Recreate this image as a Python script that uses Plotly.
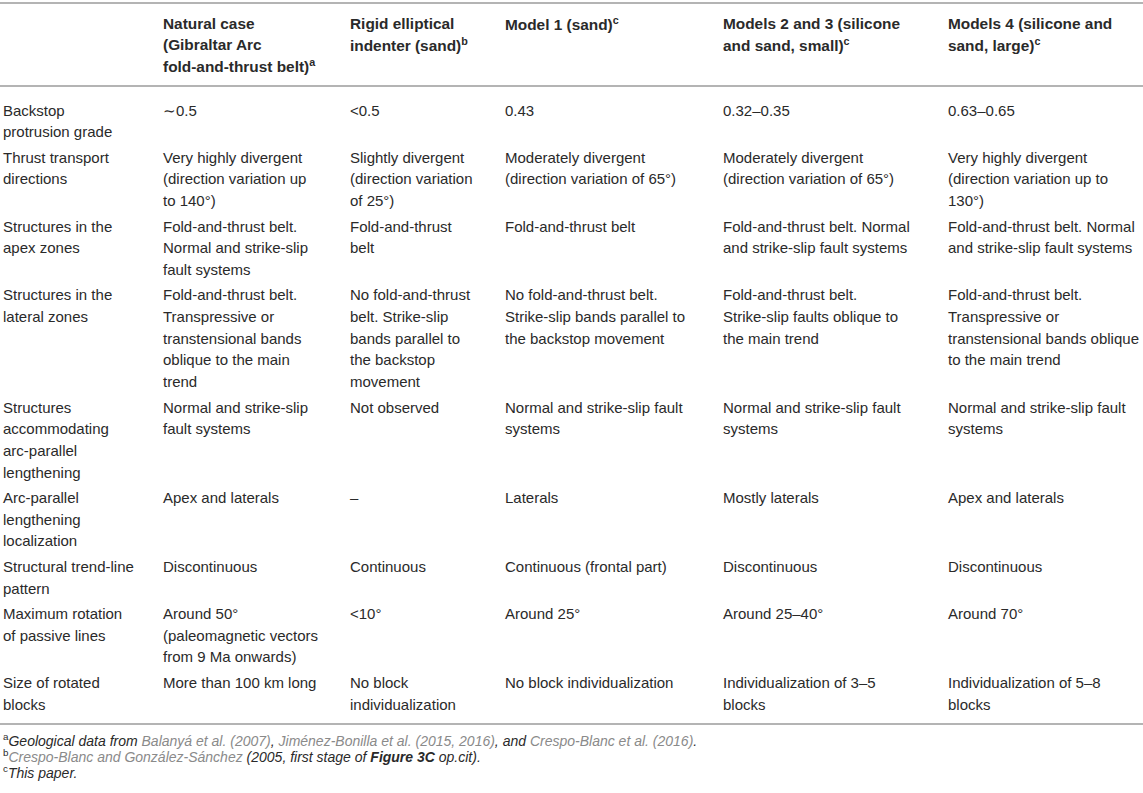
import plotly.graph_objects as go

W, H = 1143, 793

headers = [
    ["Natural case", "(Gibraltar Arc", "fold-and-thrust belt)<sup>a</sup>"],
    ["Rigid elliptical", "indenter (sand)<sup>b</sup>"],
    ["Model 1 (sand)<sup>c</sup>"],
    ["Models 2 and 3 (silicone", "and sand, small)<sup>c</sup>"],
    ["Models 4 (silicone and", "sand, large)<sup>c</sup>"],
]

row_labels = [
    ["Backstop", "protrusion grade"],
    ["Thrust transport", "directions"],
    ["Structures in the", "apex zones"],
    ["Structures in the", "lateral zones"],
    ["Structures", "accommodating", "arc-parallel", "lengthening"],
    ["Arc-parallel", "lengthening", "localization"],
    ["Structural trend-line", "pattern"],
    ["Maximum rotation", "of passive lines"],
    ["Size of rotated", "blocks"],
]

natural_case = [
    ["∼0.5"],
    ["Very highly divergent", "(direction variation up", "to 140°)"],
    ["Fold-and-thrust belt.", "Normal and strike-slip", "fault systems"],
    ["Fold-and-thrust belt.", "Transpressive or", "transtensional bands", "oblique to the main", "trend"],
    ["Normal and strike-slip", "fault systems"],
    ["Apex and laterals"],
    ["Discontinuous"],
    ["Around 50°", "(paleomagnetic vectors", "from 9 Ma onwards)"],
    ["More than 100 km long"],
]

rigid_indenter = [
    ["&lt;0.5"],
    ["Slightly divergent", "(direction variation", "of 25°)"],
    ["Fold-and-thrust", "belt"],
    ["No fold-and-thrust", "belt. Strike-slip", "bands parallel to", "the backstop", "movement"],
    ["Not observed"],
    ["–"],
    ["Continuous"],
    ["&lt;10°"],
    ["No block", "individualization"],
]

model_1 = [
    ["0.43"],
    ["Moderately divergent", "(direction variation of 65°)"],
    ["Fold-and-thrust belt"],
    ["No fold-and-thrust belt.", "Strike-slip bands parallel to", "the backstop movement"],
    ["Normal and strike-slip fault", "systems"],
    ["Laterals"],
    ["Continuous (frontal part)"],
    ["Around 25°"],
    ["No block individualization"],
]

models_2_3 = [
    ["0.32–0.35"],
    ["Moderately divergent", "(direction variation of 65°)"],
    ["Fold-and-thrust belt. Normal", "and strike-slip fault systems"],
    ["Fold-and-thrust belt.", "Strike-slip faults oblique to", "the main trend"],
    ["Normal and strike-slip fault", "systems"],
    ["Mostly laterals"],
    ["Discontinuous"],
    ["Around 25–40°"],
    ["Individualization of 3–5", "blocks"],
]

models_4 = [
    ["0.63–0.65"],
    ["Very highly divergent", "(direction variation up to", "130°)"],
    ["Fold-and-thrust belt. Normal", "and strike-slip fault systems"],
    ["Fold-and-thrust belt.", "Transpressive or", "transtensional bands oblique", "to the main trend"],
    ["Normal and strike-slip fault", "systems"],
    ["Apex and laterals"],
    ["Discontinuous"],
    ["Around 70°"],
    ["Individualization of 5–8", "blocks"],
]

GRAY = "#8a8a8a"
footnotes = [
    "<sup>a</sup><i>Geological data from <span style='color:%s'>Balanyá et al. (2007)</span>, "
    "<span style='color:%s'>Jiménez-Bonilla et al. (2015, 2016)</span>, and "
    "<span style='color:%s'>Crespo-Blanc et al. (2016)</span>.</i>" % (GRAY, GRAY, GRAY),
    "<sup>b</sup><i><span style='color:%s'>Crespo-Blanc and González-Sánchez</span> "
    "(2005, first stage of <b>Figure 3C</b> op.cit).</i>" % GRAY,
    "<sup>c</sup><i>This paper.</i>",
]

columns = [row_labels, natural_case, rigid_indenter, model_1, models_2_3, models_4]

# layout constants (pixels)
col_x = [3, 163, 350, 505, 723, 948]
LINE = 21.65
ROW_PAD = 3.9
TEXT = "#2a2a2a"
RULE = "#b4b4b4"
FONT = "Liberation Sans, Arial, sans-serif"
FS = 15

fig = go.Figure()
ann = []

def add_text(x, y, txt, size=FS, color=TEXT, bold=False):
    if bold:
        txt = "<b>" + txt + "</b>"
    ann.append(dict(x=x - 2, y=y, xref="x", yref="y", text=txt, showarrow=False,
                    xanchor="left", yanchor="middle",
                    font=dict(family=FONT, size=size, color=color)))

# headers
header_y0 = 23
for ci, lines in enumerate(headers):
    for li, t in enumerate(lines):
        add_text(col_x[ci + 1], header_y0 + li * 21.2, t, bold=True, size=15.4)

# body
y = 110
for ri in range(len(row_labels)):
    nmax = max(len(col[ri]) for col in columns)
    for ci, col in enumerate(columns):
        for li, t in enumerate(col[ri]):
            add_text(col_x[ci], y + li * LINE, t)
    y += nmax * LINE + ROW_PAD

# footnotes
for fi, t in enumerate(footnotes):
    add_text(col_x[0], 740 + fi * 16, t, size=14)

shapes = []
for ly in [3, 86, 724]:
    shapes.append(dict(type="line", xref="x", yref="y", x0=0, x1=W, y0=ly, y1=ly,
                       line=dict(color=RULE, width=2)))

fig.update_layout(
    width=W, height=H, margin=dict(l=0, r=0, t=0, b=0),
    paper_bgcolor="white", plot_bgcolor="white",
    xaxis=dict(range=[0, W], visible=False, fixedrange=True),
    yaxis=dict(range=[H, 0], visible=False, fixedrange=True),
    annotations=ann, shapes=shapes, showlegend=False,
)

fig.write_html("out.html", config={"displayModeBar": False},
               post_script="document.body.style.margin='0';document.body.style.overflow='hidden';")
